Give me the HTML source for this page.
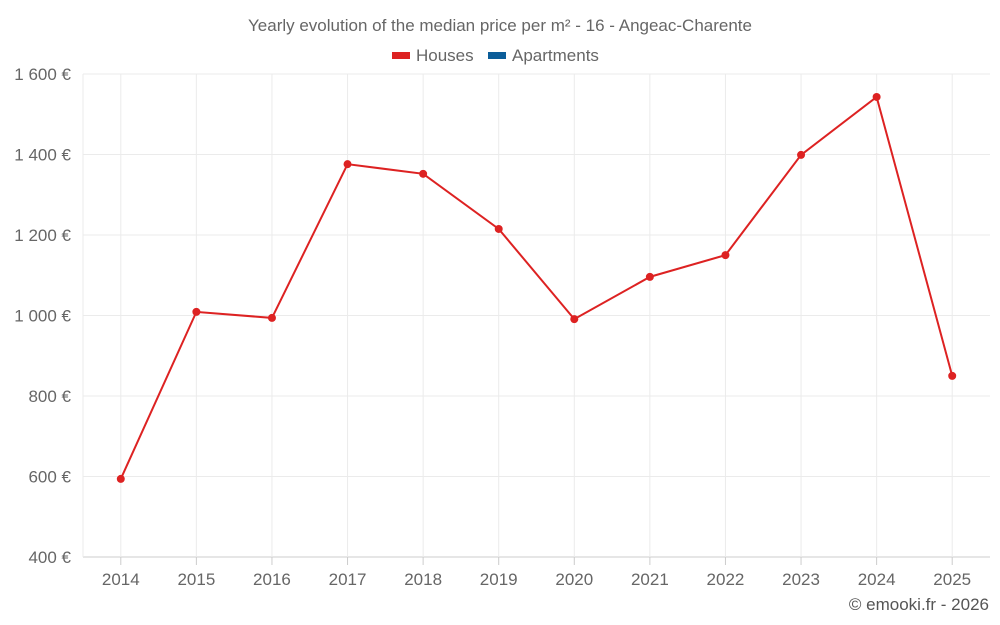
<!DOCTYPE html>
<html><head><meta charset="utf-8">
<style>
html,body{margin:0;padding:0;background:#fff;}
svg{display:block;font-family:"Liberation Sans",Roboto,sans-serif;}
</style></head>
<body>
<svg id="chart" width="1000" height="625" viewBox="0 0 1000 625" xmlns="http://www.w3.org/2000/svg">
<text x="500" y="31" text-anchor="middle" font-size="17" fill="#666">Yearly evolution of the median price per m² - 16 - Angeac-Charente</text>
<g>
<g><rect x="392" y="52" width="18" height="7" fill="#dd2222"/><text x="416" y="61" font-size="17" fill="#666">Houses</text></g>
<g><rect x="488" y="52" width="18" height="7" fill="#0b5d99"/><text x="512" y="61" font-size="17" fill="#666">Apartments</text></g>
</g>
<g id="grid"></g>
<g id="yaxis"></g>
<g id="xaxis"></g>
<g id="series"></g>
<text x="989" y="610" text-anchor="end" font-size="17" fill="#555">© emooki.fr - 2026</text>
</svg>
<script>
const categories = ["2014","2015","2016","2017","2018","2019","2020","2021","2022","2023","2024","2025"];
const housesValues = [594,1009,994,1376,1352,1215,991,1096,1150,1399,1543,850];
const yTicks = [400,600,800,1000,1200,1400,1600];
const yTickLabels = ["400 €","600 €","800 €","1 000 €","1 200 €","1 400 €","1 600 €"];

const NS="http://www.w3.org/2000/svg";
const pLeft=83,pRight=990,pTop=74,pBottom=557,yMin=400,yMax=1600;
const band=(pRight-pLeft)/categories.length;
function xPos(i){return pLeft+band*(i+0.5);}
function yPos(v){return pBottom-(v-yMin)/(yMax-yMin)*(pBottom-pTop);}
function mk(tag,attrs,parent){const e=document.createElementNS(NS,tag);for(const k in attrs)e.setAttribute(k,attrs[k]);parent.appendChild(e);return e;}
const grid=document.getElementById('grid'),ya=document.getElementById('yaxis'),xa=document.getElementById('xaxis'),ser=document.getElementById('series');

yTicks.forEach((t,i)=>{
  const y=yPos(t);
  const l=mk('line',{x1:pLeft,x2:pRight,y1:y,y2:y,stroke:t===yMin?'#ccc':'#ebebeb','stroke-width':1},grid);
  
  
  const tx=mk('text',{x:71,y:y+6,'text-anchor':'end','font-size':17,fill:'#666'},ya);
  tx.textContent=yTickLabels[i];
  
  
});
const lv=mk('line',{x1:pLeft,x2:pLeft,y1:pTop,y2:pBottom,stroke:'#ebebeb'},grid);


categories.forEach((c,i)=>{
  const x=xPos(i);
  const g=mk('line',{x1:x,x2:x,y1:pTop,y2:pBottom,stroke:'#ebebeb'},grid);
  
  
  const tk=mk('line',{x1:x,x2:x,y1:pBottom,y2:pBottom+8,stroke:'#ccc'},xa);
  
  
  const tx=mk('text',{x:x,y:585,'text-anchor':'middle','font-size':17,fill:'#666'},xa);
  tx.textContent=c;
  
  
});
const pts=housesValues.map((v,i)=>xPos(i)+','+yPos(v)).join(' ');
const pl=mk('polyline',{points:pts,fill:'none',stroke:'#dd2222','stroke-width':2},ser);


housesValues.forEach((v,i)=>{
  const c=mk('circle',{cx:xPos(i),cy:yPos(v),r:4,fill:'#dd2222'},ser);
  
  
});
</script>
</body></html>
